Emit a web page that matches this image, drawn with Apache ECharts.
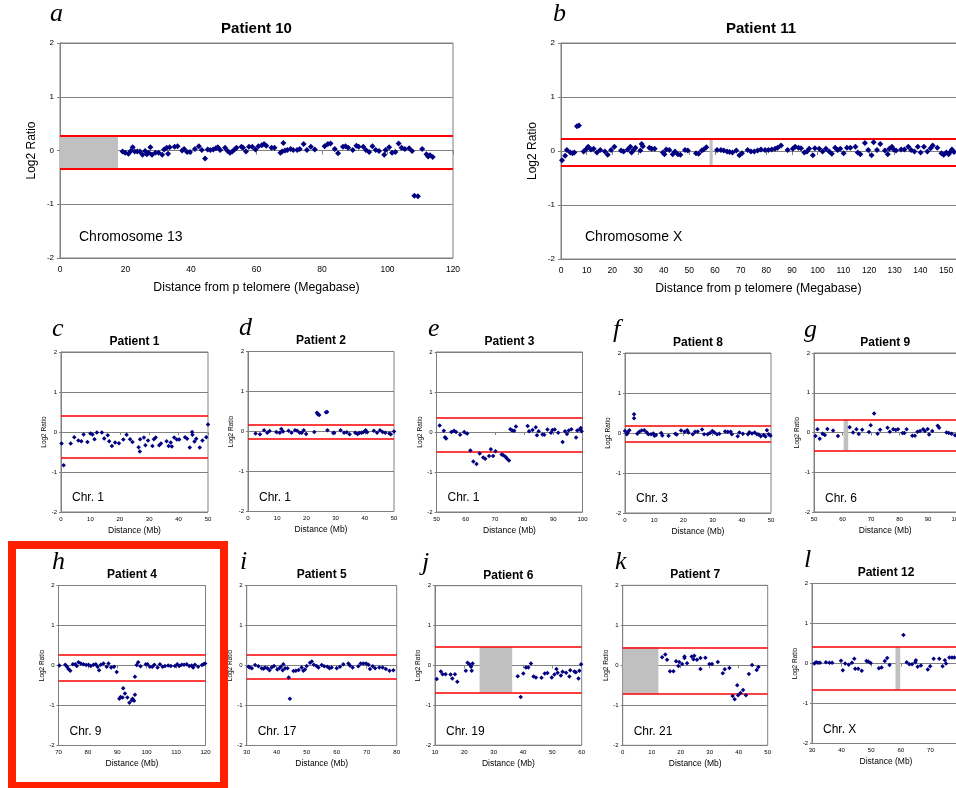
<!DOCTYPE html>
<html>
<head>
<meta charset="utf-8">
<title>Log2 ratio plots</title>
<script src="https://cdn.jsdelivr.net/npm/echarts@6/dist/echarts.min.js"></script>
<style>
html,body{margin:0;padding:0;background:#fff;}
#main{width:956px;height:788px;}
</style>
</head>
<body>
<div id="main"></div>
<script>
// log2 ratio values: [distance (Mb), log2 ratio]
var chr13P10 = [[19.1,-0.02],[19.9,-0.04],[20.9,-0.06],[21.6,-0.01],[22.2,0.06],[22.8,-0.02],[23.6,-0.02],[24.4,-0.02],[25.2,-0.08],[26.0,-0.01],[26.5,-0.07],[27.1,-0.04],[27.6,0.06],[28.1,-0.08],[29.1,-0.04],[30.1,-0.04],[31.2,-0.08],[31.8,0.02],[32.6,0.05],[33.0,-0.06],[33.5,0.06],[35.0,0.07],[35.9,0.08],[37.3,0.0],[37.9,0.03],[38.8,-0.03],[39.7,-0.03],[41.2,0.03],[42.4,0.08],[43.3,0.01],[44.3,-0.15],[45.1,0.02],[45.9,0.01],[46.8,0.02],[47.6,0.04],[48.2,0.06],[48.9,0.01],[50.4,0.05],[51.2,-0.01],[51.9,-0.04],[52.6,-0.02],[53.3,0.02],[53.9,0.05],[55.4,0.07],[55.9,0.05],[56.8,-0.02],[57.7,0.07],[58.7,0.07],[59.7,0.02],[60.6,0.08],[61.6,0.10],[62.3,0.12],[63.0,0.09],[64.6,0.05],[65.5,0.05],[67.3,-0.04],[67.8,-0.02],[68.2,0.14],[68.7,0.0],[69.4,0.01],[70.4,0.03],[71.2,0.01],[72.4,0.01],[73.2,0.03],[74.4,0.12],[75.4,0.01],[76.6,0.07],[77.8,0.02],[80.8,0.08],[81.8,0.12],[82.6,0.13],[83.9,0.03],[84.9,-0.05],[86.4,0.07],[87.2,0.08],[88.0,0.05],[89.4,0.01],[90.5,0.09],[91.2,0.07],[92.6,0.07],[93.4,0.01],[94.4,-0.03],[95.4,0.08],[96.4,0.01],[97.4,-0.01],[99.0,-0.08],[99.4,0.01],[100.5,0.06],[101.4,-0.04],[102.4,-0.03],[103.4,0.13],[104.3,0.05],[105.3,0.03],[106.6,0.04],[107.5,-0.01],[108.2,-0.84],[109.3,-0.85],[110.6,0.03],[111.9,-0.07],[112.4,-0.11],[113.0,-0.09],[113.8,-0.12]];
var chrXP11 = [[0.4,-0.17],[1.6,-0.09],[2.3,0.02],[3.6,-0.03],[4.5,-0.04],[5.2,-0.03],[6.2,0.46],[7.0,0.47],[8.8,-0.01],[9.7,0.03],[10.6,0.08],[11.7,0.03],[12.7,0.04],[14.0,-0.03],[15.3,0.02],[17.1,-0.01],[18.2,-0.07],[19.5,0.02],[20.8,0.08],[23.4,0.01],[24.4,-0.01],[26.0,0.03],[27.0,0.08],[27.5,-0.03],[28.3,0.02],[29.0,0.06],[30.9,0.01],[31.4,0.13],[31.9,0.09],[34.4,0.06],[35.3,0.04],[36.5,0.04],[39.7,-0.03],[40.3,-0.06],[41.0,0.03],[42.2,0.02],[43.5,-0.06],[44.4,-0.01],[45.5,-0.06],[46.5,-0.07],[48.3,0.02],[49.4,0.01],[52.6,-0.04],[53.6,-0.05],[54.8,0.01],[55.6,0.03],[56.6,0.07],[60.8,0.02],[62.3,0.02],[63.4,0.01],[64.7,-0.01],[65.7,-0.02],[66.8,-0.03],[68.3,0.01],[69.5,-0.08],[70.5,-0.04],[72.7,0.02],[74.0,-0.01],[75.3,-0.01],[76.6,0.01],[77.9,0.03],[79.5,0.02],[80.8,0.02],[82.1,0.03],[83.4,0.04],[84.4,0.06],[85.7,0.1],[88.3,0.02],[90.3,0.04],[91.2,0.08],[92.5,0.06],[93.5,0.05],[94.8,-0.03],[95.8,-0.01],[96.7,0.04],[98.1,-0.08],[98.9,0.05],[100.6,0.04],[101.9,-0.01],[103.2,0.04],[104.5,-0.01],[105.5,-0.05],[106.8,0.06],[107.8,0.02],[108.8,0.04],[110.1,-0.04],[111.4,0.06],[112.7,0.06],[114.7,0.08],[115.6,-0.03],[116.6,-0.06],[118.4,0.15],[119.7,0.02],[121.0,-0.08],[121.8,0.16],[123.1,0.02],[124.4,0.13],[126.2,0.01],[127.3,-0.06],[127.9,0.04],[128.9,0.08],[129.6,0.03],[130.5,0.01],[132.5,0.03],[133.8,0.03],[135.3,0.08],[136.4,0.02],[137.7,-0.01],[139.0,0.08],[140.1,-0.03],[141.4,0.08],[142.7,-0.01],[144.0,0.05],[144.8,0.1],[146.6,0.06],[148.2,-0.04],[149.1,-0.07],[150.1,-0.03],[151.0,-0.06],[151.8,-0.01],[152.3,0.03],[153.1,-0.02]];
var chr1P1 = [[0.2,-0.29],[0.9,-0.83],[3.3,-0.29],[4.5,-0.13],[5.9,-0.21],[6.9,-0.23],[7.7,-0.06],[9.0,-0.25],[10.0,-0.04],[10.7,-0.06],[11.4,-0.18],[12.2,-0.01],[13.9,-0.01],[14.7,-0.16],[15.9,-0.08],[16.4,-0.23],[17.3,-0.35],[18.4,-0.26],[19.7,-0.28],[21.2,-0.19],[22.3,-0.07],[23.5,-0.18],[24.3,-0.25],[26.4,-0.38],[26.8,-0.49],[26.9,-0.18],[28.2,-0.14],[28.7,-0.33],[29.6,-0.21],[31.1,-0.35],[31.6,-0.18],[32.2,-0.14],[33.4,-0.33],[34.0,-0.29],[35.9,-0.23],[36.6,-0.35],[37.3,-0.26],[37.7,-0.36],[38.5,-0.14],[39.4,-0.19],[40.2,-0.19],[42.2,-0.13],[42.9,-0.17],[43.8,-0.39],[44.6,0.0],[44.7,-0.07],[45.4,-0.24],[46.0,-0.17],[47.2,-0.39],[48.1,-0.21],[49.4,-0.13],[50.0,0.19]];
var chr1P2 = [[2.6,-0.05],[4.1,-0.07],[5.5,0.03],[6.6,-0.03],[7.4,0.01],[9.7,-0.01],[10.9,-0.03],[11.4,0.06],[12.0,0.0],[13.9,0.02],[14.9,-0.03],[16.1,0.03],[16.8,0.02],[17.7,-0.03],[18.4,-0.03],[19.1,0.03],[19.9,-0.06],[22.7,-0.01],[23.6,0.47],[23.9,0.43],[24.4,0.41],[26.7,0.48],[27.1,0.49],[27.2,0.03],[29.2,-0.04],[29.5,-0.03],[31.7,0.03],[32.9,-0.03],[33.8,-0.02],[34.8,-0.07],[36.7,-0.03],[37.5,-0.06],[38.1,-0.04],[38.9,-0.03],[39.6,-0.01],[40.3,0.03],[40.8,-0.02],[43.1,0.02],[44.2,-0.03],[45.2,0.03],[46.1,-0.01],[47.0,-0.03],[48.4,-0.05],[48.9,-0.07],[50.0,0.0]];
var chr1P3 = [[51.1,0.16],[52.5,0.03],[52.9,-0.13],[53.3,-0.16],[55.1,0.0],[56.0,0.03],[56.7,0.0],[58.1,-0.07],[59.5,0.0],[60.5,-0.04],[61.6,-0.46],[62.6,-0.74],[63.7,-0.8],[64.8,-0.54],[66.0,-0.64],[66.7,-0.67],[68.0,-0.6],[68.6,-0.43],[69.4,-0.6],[70.2,-0.48],[72.3,-0.56],[72.9,-0.58],[73.6,-0.62],[74.1,-0.66],[74.8,-0.71],[75.3,0.07],[75.9,0.04],[76.6,0.03],[77.2,0.14],[81.2,0.15],[81.7,0.02],[82.9,0.05],[84.0,0.12],[84.4,-0.08],[85.0,0.02],[86.3,-0.06],[86.9,-0.07],[88.0,0.06],[89.2,-0.02],[89.7,0.05],[90.5,0.06],[91.7,-0.02],[93.2,-0.25],[94.0,0.02],[94.7,-0.05],[95.3,0.04],[96.2,0.07],[97.8,-0.14],[98.2,0.04],[99.1,0.07],[99.4,0.1],[99.7,0.02]];
var chr3P8 = [[0.0,0.05],[0.6,-0.03],[0.9,0.01],[1.5,0.07],[3.1,0.47],[3.1,0.37],[4.2,-0.02],[4.9,0.03],[5.7,0.06],[6.6,0.07],[7.4,0.02],[8.0,-0.03],[8.9,-0.03],[9.7,-0.01],[10.1,-0.07],[10.6,-0.05],[12.4,0.0],[12.8,-0.06],[14.9,-0.07],[17.2,-0.02],[17.7,-0.04],[19.2,0.06],[20.4,0.03],[21.3,0.07],[21.7,0.01],[23.2,-0.03],[24.0,0.03],[24.9,0.04],[26.4,0.09],[27.1,-0.03],[28.3,-0.03],[29.1,0.0],[29.9,0.05],[30.6,0.01],[31.5,-0.03],[32.3,-0.02],[34.3,0.04],[35.2,0.03],[36.2,0.03],[36.6,-0.03],[38.6,-0.08],[39.2,0.01],[40.4,-0.02],[42.1,-0.03],[42.6,0.02],[43.5,-0.01],[44.4,0.01],[45.2,-0.03],[45.8,-0.04],[46.5,-0.08],[47.5,-0.05],[48.1,-0.09],[48.6,0.07],[49.2,-0.03],[49.8,-0.07]];
var chr6P9 = [[50.5,-0.09],[51.2,0.08],[52.0,-0.16],[53.0,-0.03],[53.8,-0.06],[54.7,0.09],[56.7,0.05],[58.4,-0.09],[62.5,0.13],[63.7,0.0],[64.9,0.08],[65.7,-0.04],[66.9,0.07],[69.3,0.01],[69.9,0.18],[71.1,0.48],[72.3,-0.03],[73.2,0.07],[75.8,0.12],[76.6,0.02],[77.8,0.08],[78.7,0.06],[79.5,0.08],[81.1,-0.01],[81.7,-0.01],[82.5,0.08],[84.5,-0.08],[85.4,-0.08],[86.3,0.02],[87.2,0.04],[88.3,0.08],[88.9,0.04],[89.9,0.09],[90.4,-0.05],[91.5,0.04],[93.4,0.17],[93.9,0.12],[96.5,0.0],[97.3,-0.01],[98.3,-0.03],[99.5,-0.07]];
var chr9P4 = [[70.3,0.0],[72.3,0.02],[72.9,-0.03],[73.4,-0.09],[74.0,-0.13],[74.9,0.03],[75.7,0.03],[76.2,-0.01],[76.8,0.08],[77.6,0.05],[78.5,0.03],[79.4,0.01],[80.2,0.02],[81.0,-0.01],[81.9,0.02],[82.7,0.03],[83.3,-0.03],[83.8,-0.12],[84.4,0.02],[85.3,0.05],[86.4,-0.03],[87.0,0.05],[87.9,-0.05],[88.9,-0.03],[89.8,-0.16],[90.7,-0.83],[91.1,-0.79],[91.8,-0.8],[92.0,-0.57],[92.6,-0.7],[93.4,-0.8],[94.1,-0.93],[94.9,-0.87],[95.2,-0.83],[95.7,-0.88],[96.0,-0.73],[96.0,-0.28],[96.6,0.01],[97.1,0.08],[97.9,-0.02],[99.7,0.03],[100.3,0.03],[101.1,-0.03],[101.9,-0.03],[102.6,0.02],[103.7,-0.05],[104.5,0.03],[105.4,-0.03],[106.2,-0.01],[107.3,0.0],[108.2,-0.01],[109.6,-0.01],[110.4,0.03],[111.1,-0.01],[111.9,0.02],[112.7,0.02],[113.6,0.03],[114.5,-0.01],[115.3,0.0],[115.8,-0.05],[116.4,0.02],[117.5,-0.03],[118.8,0.01],[119.3,0.03],[119.9,0.05]];
var chr17P5 = [[30.6,-0.03],[31.1,-0.05],[31.7,-0.07],[32.8,0.01],[33.9,-0.02],[35.0,-0.07],[35.6,-0.08],[36.1,-0.05],[36.9,-0.07],[37.6,-0.12],[38.3,-0.05],[39.1,-0.01],[40.2,-0.1],[40.9,-0.07],[41.4,-0.03],[42.0,-0.12],[42.2,0.03],[42.8,-0.07],[43.6,-0.07],[44.0,-0.3],[44.4,-0.83],[45.6,-0.14],[46.4,-0.13],[47.3,-0.11],[48.3,-0.05],[48.9,-0.13],[49.4,-0.1],[50.0,-0.01],[51.1,0.07],[51.7,0.1],[52.4,0.02],[53.3,-0.01],[53.9,-0.05],[55.0,0.01],[55.8,-0.02],[56.9,-0.03],[57.6,-0.07],[58.3,-0.05],[60.0,-0.07],[61.1,-0.03],[62.2,0.03],[63.9,0.05],[64.4,0.0],[65.3,-0.05],[67.2,-0.02],[68.0,0.05],[68.9,0.05],[69.8,0.05],[70.6,0.02],[71.1,-0.09],[72.0,-0.02],[72.8,-0.07],[74.2,-0.05],[75.3,-0.05],[76.4,-0.09],[77.6,-0.13],[78.9,-0.12]];
var chr19P6 = [[10.6,-0.34],[12.0,-0.15],[12.6,-0.22],[13.6,-0.22],[15.3,-0.23],[15.9,-0.33],[16.8,-0.22],[17.6,-0.41],[20.5,-0.13],[21.1,0.07],[21.7,0.03],[22.3,-0.03],[22.5,-0.13],[22.8,0.05],[38.2,-0.27],[39.2,-0.79],[40.1,-0.2],[41.0,-0.05],[41.8,-0.05],[42.7,0.05],[43.6,-0.28],[44.4,-0.3],[46.3,-0.31],[47.4,-0.2],[48.3,-0.19],[49.8,-0.3],[50.7,-0.23],[51.4,-0.09],[51.8,-0.18],[52.9,-0.25],[53.5,-0.16],[54.7,-0.18],[55.8,-0.28],[56.1,-0.12],[57.5,-0.15],[58.0,-0.17],[58.9,-0.33],[59.2,-0.13],[59.8,0.03]];
var chr21P7 = [[13.6,0.2],[14.7,0.27],[15.3,0.14],[16.3,-0.15],[17.5,-0.15],[18.4,0.1],[19.2,-0.02],[19.5,0.08],[20.5,0.03],[21.3,0.22],[21.3,0.18],[22.2,0.05],[23.8,0.22],[24.4,0.15],[24.7,0.24],[25.6,0.14],[26.8,0.18],[26.8,-0.09],[28.5,0.19],[29.9,0.03],[30.8,0.03],[32.8,0.08],[34.5,-0.2],[35.2,-0.1],[36.8,-0.07],[37.9,-0.77],[38.6,-0.85],[39.5,-0.5],[39.8,-0.75],[40.6,-0.69],[41.5,-0.62],[42.5,-0.75],[43.5,-0.22],[44.6,0.01],[46.2,-0.12],[46.8,-0.04]];
var chrXP12 = [[30.8,0.0],[31.4,0.03],[32.0,0.02],[32.7,0.02],[34.7,0.03],[35.9,0.02],[36.8,0.02],[39.8,0.07],[40.4,-0.17],[41.2,0.0],[42.4,-0.03],[43.5,0.02],[44.3,0.12],[44.6,-0.13],[45.6,-0.13],[46.8,-0.18],[48.4,0.06],[49.0,0.05],[49.8,0.01],[52.6,-0.12],[53.5,-0.1],[54.6,0.06],[55.4,0.14],[56.2,-0.04],[60.9,0.71],[62.0,0.03],[62.9,-0.02],[63.8,-0.02],[64.9,0.03],[65.1,0.08],[65.7,-0.08],[66.8,-0.05],[69.1,-0.15],[69.9,-0.07],[71.1,0.12],[73.0,0.12],[74.1,-0.07],[74.9,0.08],[75.3,0.0],[76.4,0.15],[77.3,0.15],[78.1,0.15]];

var panelData = [chr13P10, chrXP11, chr1P1, chr1P2, chr1P3, chr3P8, chr6P9, chr9P4, chr17P5, chr19P6, chr21P7, chrXP12];
var letters = ['a','b','c','d','e','f','g','h','i','j','k','l'];
var patients = ['Patient 10','Patient 11','Patient 1','Patient 2','Patient 3','Patient 8','Patient 9','Patient 4','Patient 5','Patient 6','Patient 7','Patient 12'];
var chromosomes = ['Chromosome 13','Chromosome X','Chr. 1','Chr. 1','Chr. 1','Chr. 3','Chr. 6','Chr. 9','Chr. 17','Chr. 19','Chr. 21','Chr. X'];
// red threshold lines
var upperLimit = [0.27, 0.23, 0.40, 0.17, 0.36, 0.18, 0.33, 0.26, 0.27, 0.46, 0.45, 0.41];
var lowerLimit = [-0.34, -0.28, -0.65, -0.175, -0.49, -0.22, -0.46, -0.38, -0.33, -0.68, -0.71, -0.66];
// grey gaps (no probes), in Mb
var gapRegions = [[[0, 17.7]], [[57.9, 59.1]], [], [], [], [], [[60.4, 62.0]], [], [], [[25.2, 36.3]], [[0, 12.3]], [[58.2, 59.8]]];
// x axis range: min, max, step
var xRanges = [[0,120,20],[0,160,10],[0,50,10],[0,50,10],[50,100,10],[0,50,10],[50,100,10],[70,120,10],[30,80,10],[10,60,10],[0,50,10],[30,80,10]];

// plot positions on the page
var layout = [
    {big:true, left:60,    top:43,    width:393,   height:215, lx:50},
    {big:true, left:561,   top:43,    width:410.7, height:216, lx:553, tx:761, cx:585, namePad:16},
    {left:61,    top:352,   width:147,   height:160, lx:52},
    {left:248,   top:351.5, width:146,   height:160, lx:239},
    {left:436.5, top:352,   width:146,   height:160, lx:428},
    {left:625,   top:353,   width:146,   height:160, lx:613},
    {left:814,   top:353,   width:142.5, height:159, lx:804},
    {left:58.5,  top:585.5, width:147,   height:160, lx:52},
    {left:246.7, top:585.5, width:150,   height:160, lx:240},
    {left:435,   top:585.7, width:146.7, height:159.5, lx:422},
    {left:622.7, top:585.3, width:145,   height:160, lx:615},
    {left:812,   top:583.5, width:148,   height:160, lx:804}
];

var fontSans = '"Liberation Sans", Arial, sans-serif';
var fontSerif = '"Liberation Serif", "Times New Roman", serif';
var gridLineColors = ['#808080', '#808080', '#b4b4b4', '#808080', '#808080'];

var option = {
    animation: false,
    backgroundColor: '#fff',
    grid: [],
    xAxis: [],
    yAxis: [],
    series: [],
    graphic: []
};

panelData.forEach(function(data, i) {
    var L = layout[i];
    var big = !!L.big;
    var r = xRanges[i];

    option.grid.push({
        left: L.left, top: L.top, width: L.width, height: L.height,
        containLabel: false,
        outerBoundsMode: 'none',
        show: true,
        backgroundColor: 'transparent',
        borderColor: '#808080',
        borderWidth: 1
    });

    option.xAxis.push({
        gridIndex: i,
        type: 'value',
        min: r[0], max: r[1], interval: r[2],
        name: big ? 'Distance from p telomere (Megabase)' : 'Distance (Mb)',
        nameLocation: 'middle',
        nameGap: big ? 24 : 14,
        nameTextStyle: {
            fontFamily: fontSans, fontSize: big ? 12.3 : 8.5, color: '#000',
            padding: L.namePad ? [0, L.namePad, 0, 0] : 0
        },
        axisLine: {show: true, lineStyle: {color: '#808080', width: 1}},
        axisTick: {show: true, length: big ? 4 : 3, lineStyle: {color: '#808080'}},
        axisLabel: {fontFamily: fontSans, fontSize: big ? 8.5 : 6, color: '#000', margin: big ? 7 : 4, showMinLabel: true, showMaxLabel: true},
        splitLine: {show: false}
    });

    option.yAxis.push({
        gridIndex: i,
        type: 'value',
        min: -2, max: 2, interval: 1,
        name: 'Log2 Ratio',
        nameLocation: 'middle',
        nameRotate: 90,
        nameGap: big ? 22 : 13,
        nameTextStyle: {fontFamily: fontSans, fontSize: big ? 12 : 6.5, color: '#000'},
        axisLine: {show: true, lineStyle: {color: '#808080', width: 1}},
        axisTick: {show: true, length: big ? 3 : 2, lineStyle: {color: '#808080'}},
        axisLabel: {fontFamily: fontSans, fontSize: big ? 8 : 6, color: '#000', margin: big ? 6 : 4},
        splitLine: {show: true, lineStyle: {color: gridLineColors, width: 1}}
    });

    option.series.push({
        type: 'scatter',
        xAxisIndex: i,
        yAxisIndex: i,
        symbol: 'diamond',
        symbolSize: big ? 6 : 4.5,
        itemStyle: {color: '#000080', opacity: 1},
        data: data,
        z: 5,
        markArea: {
            silent: true,
            itemStyle: {color: '#c0c0c0'},
            data: gapRegions[i].map(function(g) {
                return [{xAxis: g[0], yAxis: lowerLimit[i]}, {xAxis: g[1], yAxis: upperLimit[i]}];
            })
        },
        markLine: {
            silent: true,
            symbol: ['none', 'none'],
            label: {show: false},
            lineStyle: {color: '#ff0000', width: big ? 2 : 1.6, type: 'solid'},
            data: [{yAxis: upperLimit[i]}, {yAxis: lowerLimit[i]}]
        }
    });

    // panel letter
    option.graphic.push({
        type: 'text', x: L.lx, y: big ? 14 : L.top - 23, z: 10,
        style: {text: letters[i], font: 'italic 26px ' + fontSerif, fill: '#000', align: 'left', verticalAlign: 'middle'}
    });
    // panel title
    option.graphic.push({
        type: 'text', x: L.tx || (L.left + L.width / 2), y: big ? 29 : L.top - 10.5, z: 10,
        style: {text: patients[i], font: 'bold ' + (big ? 15 : 12) + 'px ' + fontSans, fill: '#000', align: 'center', verticalAlign: 'middle'}
    });
    // chromosome label
    option.graphic.push({
        type: 'text', x: L.cx || (L.left + (big ? 19 : 11)), y: L.top + (big ? 194 : 146), z: 10,
        style: {text: chromosomes[i], font: (big ? 14 : 12) + 'px ' + fontSans, fill: '#000', align: 'left', verticalAlign: 'middle'}
    });
});

// red frame around panel h
option.graphic.push({
    type: 'rect', z: 20,
    shape: {x: 12, y: 545, width: 212, height: 241},
    style: {fill: 'none', stroke: '#ff2000', lineWidth: 8}
});

var myChart = echarts.init(document.getElementById('main'));
myChart.setOption(option);
</script>
</body>
</html>
